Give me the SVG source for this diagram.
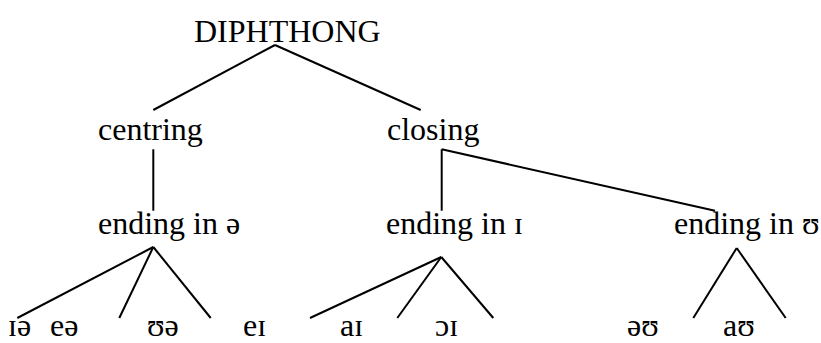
<svg xmlns="http://www.w3.org/2000/svg" width="821" height="343" viewBox="0 0 821 343">
<style>
text{font-family:'Liberation Serif','Times New Roman',serif;font-size:32px;fill:#000}
.c line{stroke:#000;stroke-width:2;stroke-linecap:butt}
</style>
<rect width="821" height="343" fill="#fff"/>
<g class="c" id="connectors">
<line x1="275" y1="45" x2="153.3" y2="110"/>
<line x1="275" y1="45" x2="420.7" y2="110"/>
<line x1="153.3" y1="149.3" x2="153.3" y2="210.7"/>
<line x1="441.7" y1="149.3" x2="441.7" y2="210.7"/>
<line x1="441.7" y1="149.3" x2="715" y2="210.7"/>
<line x1="153.3" y1="247" x2="17.3" y2="318"/>
<line x1="153.3" y1="247" x2="119.3" y2="318"/>
<line x1="153.3" y1="247" x2="210.7" y2="318"/>
<line x1="441.3" y1="257" x2="310" y2="318"/>
<line x1="441.3" y1="257" x2="397.3" y2="318"/>
<line x1="441.3" y1="257" x2="493.3" y2="318"/>
<line x1="736.7" y1="248" x2="693.3" y2="318"/>
<line x1="736.7" y1="248" x2="785.7" y2="318"/>
</g>
<g id="diphthong"><text x="194" y="42">DIPHTHONG</text></g>
<g id="centring"><text x="98" y="140">centring</text></g>
<g id="closing"><text x="387" y="140">closing</text></g>
<g id="ending-schwa"><text x="98" y="234">ending in ə</text></g>
<g id="ending-i"><text x="386" y="234">ending in ɪ</text></g>
<g id="ending-u"><text x="674" y="234">ending in ʊ</text></g>
<g id="ia"><text x="8" y="336">ɪə</text></g>
<g id="ea"><text x="50" y="336">eə</text></g>
<g id="ua"><text x="147" y="336">ʊə</text></g>
<g id="ei"><text x="243" y="336">eɪ</text></g>
<g id="ai"><text x="340" y="336">aɪ</text></g>
<g id="oi"><text x="435" y="336">ɔɪ</text></g>
<g id="au-schwa"><text x="627" y="336">əʊ</text></g>
<g id="au"><text x="723" y="336">aʊ</text></g>
</svg>
